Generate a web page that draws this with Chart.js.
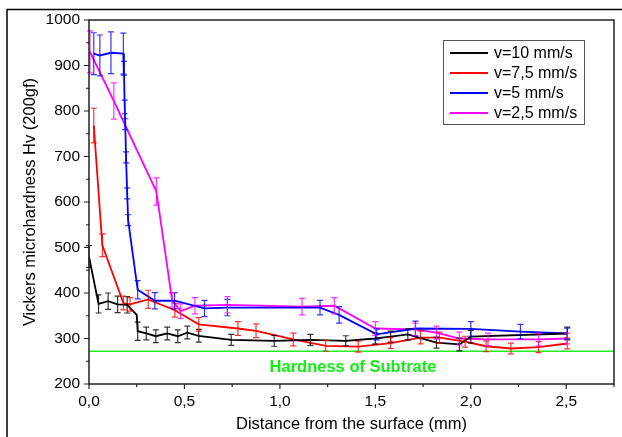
<!DOCTYPE html>
<html>
<head>
<meta charset="utf-8">
<script src="https://cdn.jsdelivr.net/npm/chart.js@4/dist/chart.umd.min.js"></script>
<style>
  html, body { margin: 0; padding: 0; background: #fff; }
  canvas { display: block; }
</style>
</head>
<body>
<canvas id="chart" width="622" height="437"></canvas>
<script>
// distance from surface (mm), hardness (Hv) and error bar half-height per series
const seriesNames = ['v=10 mm/s', 'v=7,5 mm/s', 'v=5 mm/s', 'v=2,5 mm/s'];
const seriesColors = ['#000000', '#ff0000', '#0000ff', '#ff00ff'];

const x10 = [0, 0.05, 0.10, 0.15, 0.20, 0.25, 0.255, 0.30, 0.35, 0.41, 0.465, 0.515, 0.575, 0.745, 0.97, 1.16, 1.345, 1.50, 1.58, 1.67, 1.82, 1.94, 2.00, 2.505];
const hv10 = [480, 376, 382, 375, 374, 352, 316, 311, 305, 311, 305, 313, 306, 297, 295, 297, 295, 300, 304, 309, 291, 287, 304, 311];
const err10 = [24, 20, 18, 18, 18, 0, 20, 14, 14, 14, 14, 14, 14, 12, 12, 12, 11, 12, 12, 12, 12, 14, 14, 14];

const x75 = [0.025, 0.07, 0.18, 0.215, 0.31, 0.45, 0.575, 0.78, 0.875, 1.07, 1.24, 1.41, 1.58, 1.737, 1.836, 1.97, 2.08, 2.21, 2.355, 2.505];
const hv75 = [768, 505, 378, 375, 386, 362, 331, 322, 317, 298, 284, 282, 290, 302, 302, 293, 283, 278, 281, 289];
const err75 = [38, 25, 15, 15, 20, 15, 15, 15, 15, 14, 12, 12, 12, 14, 12, 12, 12, 12, 12, 12];

const x5 = [0.025, 0.057, 0.115, 0.18, 0.183, 0.187, 0.19, 0.194, 0.20, 0.205, 0.255, 0.345, 0.448, 0.605, 0.725, 1.21, 1.31, 1.507, 1.71, 2.00, 2.26, 2.505];
const hv5 = [926, 922, 928, 926, 894, 809, 771, 698, 619, 560, 407, 383, 383, 366, 368, 368, 352, 309, 322, 321, 315, 311];
const err5 = [46, 45, 46, 45, 15, 15, 12, 12, 12, 12, 20, 18, 18, 18, 18, 16, 18, 12, 16, 16, 16, 12];

const x25 = [0.005, 0.13, 0.353, 0.435, 0.48, 0.555, 0.725, 1.116, 1.285, 1.50, 1.71, 1.82, 1.94, 2.09, 2.355, 2.505];
const hv25 = [930, 822, 623, 385, 360, 372, 374, 370, 372, 322, 320, 313, 300, 298, 298, 300];
const err25 = [46, 40, 30, 16, 16, 18, 18, 18, 18, 15, 14, 14, 14, 14, 14, 12];

// substrate hardness reference line
const subX = [0, 2.75];
const subY = [272, 272];
const subLabel = 'Hardness of Subtrate';
const subLabelPos = [1.383, 236];

const xTitle = 'Distance from the surface (mm)';
const yTitle = 'Vickers microhardness Hv (200gf)';

const FONT = '"Liberation Sans", Arial, sans-serif';

function pts(xs, ys) {
    return xs.map((x, i) => ({ x: x, y: ys[i] }));
}

const allX = [x10, x75, x5, x25];
const allY = [hv10, hv75, hv5, hv25];
const allErr = [err10, err75, err5, err25];

const datasets = seriesNames.map((name, i) => ({
    label: name,
    data: pts(allX[i], allY[i]),
    errors: allErr[i],
    borderColor: seriesColors[i],
    backgroundColor: seriesColors[i],
    borderWidth: 1.8,
    pointRadius: 0,
    showLine: true,
    tension: 0,
}));

datasets.push({
    label: 'substrate',
    data: pts(subX, subY),
    borderColor: '#22ee22',
    borderWidth: 1.5,
    pointRadius: 0,
    showLine: true,
});

const errorBars = {
    id: 'errorBars',
    afterDatasetsDraw(chart) {
        const ctx = chart.ctx;
        const xs = chart.scales.x, ys = chart.scales.y;
        chart.data.datasets.forEach((ds) => {
            if (!ds.errors) return;
            ctx.save();
            ctx.strokeStyle = ds.borderColor;
            ctx.globalAlpha = 0.8;
            ctx.lineWidth = 1.2;
            ds.data.forEach((p, i) => {
                const e = ds.errors[i];
                if (!e) return;
                const px = xs.getPixelForValue(p.x);
                const top = ys.getPixelForValue(p.y + e);
                const bot = ys.getPixelForValue(p.y - e);
                ctx.beginPath();
                ctx.moveTo(px, top); ctx.lineTo(px, bot);
                ctx.moveTo(px - 3, top); ctx.lineTo(px + 3, top);
                ctx.moveTo(px - 3, bot); ctx.lineTo(px + 3, bot);
                ctx.stroke();
            });
            ctx.restore();
        });
    }
};

const frame = {
    id: 'frame',
    afterDraw(chart) {
        const ctx = chart.ctx;
        const a = chart.chartArea;
        const xs = chart.scales.x, ys = chart.scales.y;
        ctx.save();
        ctx.strokeStyle = '#000';

        // outer figure frame
        ctx.lineWidth = 1.5;
        ctx.beginPath();
        ctx.moveTo(7, chart.height); ctx.lineTo(7, 9.5); ctx.lineTo(chart.width, 9.5);
        ctx.stroke();

        // plot box
        ctx.strokeStyle = '#222';
        ctx.lineWidth = 1.5;
        ctx.strokeRect(a.left, a.top, a.right - a.left, a.bottom - a.top);

        // ticks, longer where there is a label
        ctx.lineWidth = 1.2;
        ctx.beginPath();
        xs.ticks.forEach((t) => {
            const px = xs.getPixelForValue(t.value);
            const len = t.label ? 5 : 3;
            ctx.moveTo(px, a.bottom); ctx.lineTo(px, a.bottom + len);
        });
        ys.ticks.forEach((t) => {
            const py = ys.getPixelForValue(t.value);
            const len = t.label ? 5 : 3;
            ctx.moveTo(a.left, py); ctx.lineTo(a.left - len, py);
        });
        ctx.stroke();

        // substrate label
        ctx.fillStyle = '#11ee11';
        ctx.font = 'bold 16.5px ' + FONT;
        ctx.textAlign = 'center';
        ctx.textBaseline = 'middle';
        ctx.fillText(subLabel, xs.getPixelForValue(subLabelPos[0]), ys.getPixelForValue(subLabelPos[1]));

        // legend box
        const bx = a.right - 171, by = a.top + 20, bw = 141, bh = 84;
        ctx.strokeStyle = '#555';
        ctx.lineWidth = 1;
        ctx.strokeRect(bx + 0.5, by + 0.5, bw, bh);
        ctx.font = '16px ' + FONT;
        ctx.textAlign = 'left';
        ctx.fillStyle = '#000';
        seriesNames.forEach((name, i) => {
            const ly = by + 13 + i * 20;
            ctx.strokeStyle = seriesColors[i];
            ctx.lineWidth = 1.8;
            ctx.beginPath();
            ctx.moveTo(bx + 7, ly); ctx.lineTo(bx + 45, ly);
            ctx.stroke();
            ctx.fillText(name, bx + 51, ly + 1);
        });
        ctx.restore();
    }
};

new Chart(document.getElementById('chart'), {
    type: 'scatter',
    data: { datasets: datasets },
    options: {
        responsive: false,
        animation: false,
        devicePixelRatio: 1,
        layout: { padding: { left: 15, right: 6, top: 20, bottom: 3 } },
        plugins: {
            legend: { display: false },
            tooltip: { enabled: false },
        },
        scales: {
            x: {
                type: 'linear',
                min: 0,
                max: 2.75,
                afterFit: (s) => { s.height = 50; },
                grid: { display: false, drawTicks: false },
                border: { display: false },
                ticks: {
                    stepSize: 0.25,
                    padding: 8,
                    color: '#000',
                    font: { family: FONT, size: 15.5 },
                    maxRotation: 0,
                    autoSkip: false,
                    callback: (v) => (Math.round(v * 100) % 50 === 0 ? v.toFixed(1).replace('.', ',') : ''),
                },
                title: {
                    display: true,
                    text: xTitle,
                    color: '#000',
                    font: { family: FONT, size: 16.5 },
                    padding: { top: 0, bottom: 0 },
                },
            },
            y: {
                min: 200,
                max: 1000,
                afterFit: (s) => { s.width = 74; },
                grid: { display: false, drawTicks: false },
                border: { display: false },
                ticks: {
                    stepSize: 50,
                    padding: 9,
                    color: '#000',
                    font: { family: FONT, size: 15.5 },
                    autoSkip: false,
                    callback: (v) => (v % 100 === 0 ? String(v) : ''),
                },
                title: {
                    display: true,
                    text: yTitle,
                    color: '#000',
                    font: { family: FONT, size: 16.5 },
                    padding: { top: 6, bottom: 0 },
                },
            },
        },
    },
    plugins: [errorBars, frame],
});
</script>
</body>
</html>
